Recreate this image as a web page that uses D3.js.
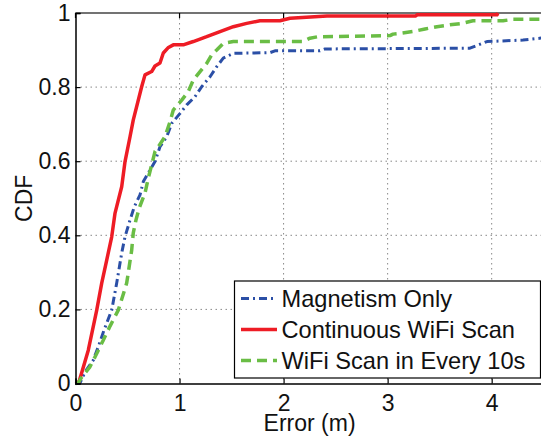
<!DOCTYPE html>
<html>
<head>
<meta charset="utf-8">
<script src="https://cdn.jsdelivr.net/npm/d3@7"></script>
<style>
  body { margin: 0; background: #fff; }
  svg { display: block; font-family: "Liberation Sans", Arial, Helvetica, sans-serif; }
</style>
</head>
<body>
<svg id="chart" width="541" height="441"></svg>
<script>
// error (m) values and CDF values
var magErr = [0, 0.043, 0.091, 0.171, 0.219, 0.274, 0.348, 0.396, 0.444, 0.476, 0.524, 0.565, 0.620, 0.652, 0.716, 0.764, 0.812, 0.877, 0.925, 1.005, 1.069, 1.148, 1.213, 1.293, 1.357, 1.420, 1.517, 1.869, 1.917, 2.350, 2.398, 3.791, 3.955, 4.301, 4.5];
var magCdf = [0, 0.001, 0.031, 0.063, 0.099, 0.144, 0.198, 0.271, 0.352, 0.396, 0.441, 0.477, 0.509, 0.545, 0.576, 0.599, 0.639, 0.666, 0.702, 0.729, 0.752, 0.774, 0.801, 0.828, 0.855, 0.878, 0.891, 0.893, 0.898, 0.898, 0.903, 0.905, 0.923, 0.927, 0.933];

var contErr = [0, 0.034, 0.123, 0.204, 0.252, 0.300, 0.348, 0.380, 0.444, 0.476, 0.524, 0.555, 0.636, 0.668, 0.732, 0.764, 0.812, 0.844, 0.889, 0.940, 1.036, 1.132, 1.261, 1.389, 1.517, 1.645, 1.773, 1.965, 2.061, 2.417, 3.270, 3.282, 4.051, 4.060];
var contCdf = [0, 0.005, 0.090, 0.198, 0.271, 0.333, 0.396, 0.460, 0.531, 0.599, 0.666, 0.711, 0.801, 0.833, 0.842, 0.857, 0.865, 0.892, 0.906, 0.914, 0.914, 0.923, 0.936, 0.950, 0.963, 0.972, 0.979, 0.979, 0.986, 0.992, 0.992, 0.995, 0.995, 1.0];

var scanErr = [0, 0.024, 0.062, 0.139, 0.197, 0.267, 0.332, 0.411, 0.457, 0.492, 0.540, 0.555, 0.581, 0.613, 0.668, 0.700, 0.732, 0.764, 0.812, 0.860, 0.908, 0.940, 1.021, 1.084, 1.132, 1.197, 1.261, 1.309, 1.357, 1.420, 1.517, 2.186, 2.253, 2.330, 3.023, 3.051, 3.119, 3.244, 3.359, 3.474, 3.599, 3.715, 3.820, 4.109, 4.205, 4.5];
var scanCdf = [0, 0.001, 0.018, 0.045, 0.077, 0.117, 0.155, 0.198, 0.239, 0.271, 0.360, 0.406, 0.441, 0.474, 0.514, 0.555, 0.590, 0.626, 0.646, 0.666, 0.706, 0.738, 0.765, 0.788, 0.819, 0.842, 0.864, 0.887, 0.900, 0.918, 0.923, 0.923, 0.932, 0.936, 0.939, 0.943, 0.945, 0.950, 0.957, 0.963, 0.968, 0.972, 0.979, 0.979, 0.983, 0.983];

var seriesNames = ["Magnetism Only", "Continuous WiFi Scan", "WiFi Scan in Every 10s"];
var xTicks = [0, 1, 2, 3, 4];
var yTicks = [0, 0.2, 0.4, 0.6, 0.8, 1];

var series = [
    { name: seriesNames[0], err: magErr, cdf: magCdf, color: "#2b4fa6", width: 3, dash: "8,4,2,4" },
    { name: seriesNames[1], err: contErr, cdf: contCdf, color: "#ee1c25", width: 3.5, dash: null },
    { name: seriesNames[2], err: scanErr, cdf: scanCdf, color: "#6abd45", width: 3.5, dash: "10,6" }
];

var svg = d3.select("#chart");
var plotLeft = 75.5, plotRight = 543.7, plotTop = 13, plotBottom = 383.5;

var x = d3.scaleLinear().domain([0, 4.5]).range([plotLeft, plotRight]);
var y = d3.scaleLinear().domain([0, 1]).range([plotBottom, plotTop]);

// dotted grid
svg.append("g").selectAll("line").data(xTicks.slice(1)).enter().append("line")
    .attr("x1", function (d) { return x(d); }).attr("x2", function (d) { return x(d); })
    .attr("y1", plotTop).attr("y2", plotBottom)
    .attr("stroke", "#888").attr("stroke-width", 1).attr("stroke-dasharray", "1.5,3.5");
svg.append("g").selectAll("line").data(yTicks.slice(1, -1)).enter().append("line")
    .attr("x1", plotLeft).attr("x2", plotRight)
    .attr("y1", function (d) { return y(d); }).attr("y2", function (d) { return y(d); })
    .attr("stroke", "#888").attr("stroke-width", 1).attr("stroke-dasharray", "1.5,3.5");

// top border with inward ticks
svg.append("line").attr("x1", plotLeft).attr("x2", plotRight).attr("y1", plotTop).attr("y2", plotTop)
    .attr("stroke", "#444").attr("stroke-width", 1.5);
svg.append("g").selectAll("line").data(xTicks).enter().append("line")
    .attr("x1", function (d) { return x(d); }).attr("x2", function (d) { return x(d); })
    .attr("y1", plotTop).attr("y2", plotTop + 5)
    .attr("stroke", "#000").attr("stroke-width", 1.2);

// curves
var line = d3.line()
    .x(function (d) { return x(d[0]); })
    .y(function (d) { return y(d[1]); });

series.forEach(function (s) {
    var pts = s.err.map(function (e, i) { return [e, s.cdf[i]]; });
    svg.append("path")
        .datum(pts)
        .attr("d", line)
        .attr("fill", "none")
        .attr("stroke", s.color)
        .attr("stroke-width", s.width)
        .attr("stroke-linejoin", "round")
        .attr("stroke-dasharray", s.dash);
});

// axes
var xAxis = svg.append("g")
    .attr("transform", "translate(0," + plotBottom + ")")
    .call(d3.axisBottom(x).tickValues(xTicks).tickSize(-5).tickPadding(11).tickFormat(d3.format("")));
var yAxis = svg.append("g")
    .attr("transform", "translate(" + plotLeft + ",0)")
    .call(d3.axisLeft(y).tickValues(yTicks).tickSize(-5).tickPadding(5).tickFormat(d3.format("")));

[xAxis, yAxis].forEach(function (g) {
    g.attr("font-size", null).attr("font-family", null);
    g.select(".domain").attr("stroke", "#000").attr("stroke-width", 1.5);
    g.selectAll(".tick line").attr("stroke", "#000").attr("stroke-width", 1.2);
    g.selectAll(".tick text").attr("fill", "#111").style("font-size", "23px");
});

// axis titles
svg.append("text").attr("x", (plotLeft + plotRight) / 2).attr("y", 431)
    .attr("text-anchor", "middle").attr("fill", "#111").style("font-size", "23px").text("Error (m)");
svg.append("text").attr("transform", "translate(32," + (plotTop + plotBottom) / 2 + ") rotate(-90)")
    .attr("text-anchor", "middle").attr("fill", "#111").style("font-size", "23px").text("CDF");

// legend
var legend = svg.append("g");
legend.append("rect").attr("x", 234.5).attr("y", 281).attr("width", 306).attr("height", 97)
    .attr("fill", "#fff").attr("stroke", "#000").attr("stroke-width", 1.2);

series.forEach(function (s, i) {
    var ly = 298.5 + i * 31;
    legend.append("line").attr("x1", 241).attr("x2", 277).attr("y1", ly).attr("y2", ly)
        .attr("stroke", s.color).attr("stroke-width", s.width).attr("stroke-dasharray", s.dash);
    legend.append("text").attr("x", 281.5).attr("y", ly + 8.5)
        .style("font-size", "23.6px").attr("fill", "#111").text(s.name);
});
</script>
</body>
</html>
